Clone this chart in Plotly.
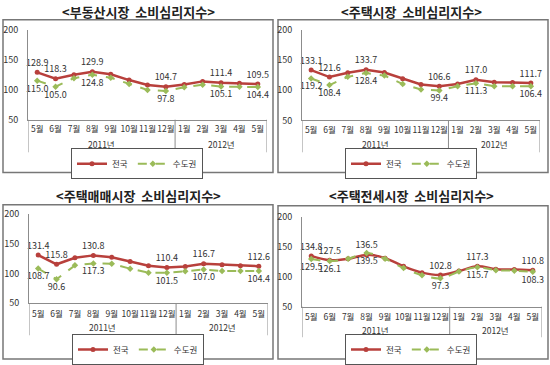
import plotly.graph_objects as go

months = ["5월", "6월", "7월", "8월", "9월", "10월", "11월", "12월", "1월", "2월", "3월", "4월", "5월"]
years = ["2011년"] * 8 + ["2012년"] * 5

titles = ["<부동산시장  소비심리지수>", "<주택시장  소비심리지수>",
          "<주택매매시장  소비심리지수>", "<주택전세시장  소비심리지수>"]

# 전국 (national)
nat_realestate = [128.9, 118.3, 124.8, 129.9, 125.6, 116.0, 107.8, 104.7, 108.8, 113.8, 111.4, 110.6, 109.5]
nat_housing = [133.1, 121.6, 128.6, 133.7, 129.2, 118.7, 109.4, 106.6, 110.2, 117.0, 113.2, 112.5, 111.7]
nat_sale = [131.4, 115.8, 126.7, 130.8, 127.8, 120.6, 113.4, 110.4, 112.0, 116.7, 115.0, 113.4, 112.6]
nat_jeonse = [134.8, 127.5, 129.9, 136.5, 131.0, 117.3, 106.8, 102.8, 109.5, 117.3, 112.6, 112.0, 110.8]

# 수도권 (capital region)
cap_realestate = [115.0, 105.0, 119.2, 124.8, 120.0, 109.4, 99.5, 97.8, 103.9, 108.2, 105.1, 104.8, 104.4]
cap_housing = [119.2, 108.4, 122.0, 128.4, 124.0, 110.0, 101.0, 99.4, 106.6, 111.3, 106.6, 106.5, 106.4]
cap_sale = [108.7, 90.6, 114.0, 117.3, 116.8, 108.4, 101.7, 101.5, 104.0, 107.0, 104.4, 104.4, 104.4]
cap_jeonse = [129.5, 126.1, 130.0, 139.5, 130.0, 114.5, 102.5, 97.3, 108.5, 115.7, 111.0, 110.0, 108.3]

# indices of points that carry data labels
nat_labeled = [[0, 1, 3, 7, 10, 12], [0, 1, 3, 7, 9, 12], [0, 1, 3, 7, 9, 12], [0, 1, 3, 7, 9, 12]]
cap_labeled = [[0, 1, 3, 7, 10, 12], [0, 1, 3, 7, 9, 12], [0, 1, 3, 7, 9, 12], [0, 1, 3, 7, 9, 12]]

nat_all = [nat_realestate, nat_housing, nat_sale, nat_jeonse]
cap_all = [cap_realestate, cap_housing, cap_sale, cap_jeonse]

# unique category keys (year + month) so repeated month names stay distinct
cats = [f"{y} {m}" for y, m in zip(years, months)]
year_names = list(dict.fromkeys(years))
group_idx = {y: [k for k, yy in enumerate(years) if yy == y] for y in year_names}

W, H = 550, 365
RED = "#B8403C"
GREEN = "#9BBB59"
AXC = "#8C8C8C"
FONT = "Noto Sans CJK KR"

panels = [
    dict(plot=(28, 267, 30, 121), box=(3, 273, 20, 174.5), title=(138, 12), leg=(137, 165.5),
         year_y=146, div_b=154, standoff=1),
    dict(plot=(302, 540, 30, 121.7), box=(278, 548, 20, 174.5), title=(411, 12), leg=(411, 165.5),
         year_y=146, div_b=154, standoff=1),
    dict(plot=(29, 268, 216.7, 306.7), box=(3, 273, 207, 363), title=(138, 198), leg=(138, 353.5),
         year_y=331, div_b=339, standoff=2),
    dict(plot=(302, 542, 219.3, 310), box=(278, 548, 208, 363), title=(411, 198), leg=(411, 353.5),
         year_y=334, div_b=341, standoff=2),
]

fig = go.Figure()
shapes = []
annotations = []
layout_extra = {}

for i, p in enumerate(panels):
    n = i + 1
    xa = "x" if n == 1 else f"x{n}"
    ya = "y" if n == 1 else f"y{n}"
    leg = "legend" if n == 1 else f"legend{n}"
    shape = "spline" if n == 4 else "linear"

    nat = nat_all[i]
    cap = cap_all[i]
    nat_text = [f"{v:.1f}" if k in nat_labeled[i] else "" for k, v in enumerate(nat)]
    cap_text = [f"{v:.1f}" if k in cap_labeled[i] else "" for k, v in enumerate(cap)]

    fig.add_trace(go.Scatter(
        x=cats, y=nat, name="전국", mode="lines+markers+text",
        text=nat_text, textposition="top center",
        textfont=dict(size=9, color="#333333", family=FONT),
        line=dict(color=RED, width=2.5, shape=shape),
        marker=dict(symbol="circle", size=5, color=RED),
        xaxis=xa, yaxis=ya, legend=leg, cliponaxis=False))
    fig.add_trace(go.Scatter(
        x=cats, y=cap, name="수도권", mode="lines+markers+text",
        text=cap_text, textposition="bottom center",
        textfont=dict(size=9, color="#333333", family=FONT),
        line=dict(color=GREEN, width=2, dash="dash", shape=shape),
        marker=dict(symbol="diamond", size=5, color=GREEN),
        xaxis=xa, yaxis=ya, legend=leg, cliponaxis=False))

    x0, x1, yt, yb = p["plot"]
    xkey = "xaxis" if n == 1 else f"xaxis{n}"
    ykey = "yaxis" if n == 1 else f"yaxis{n}"
    layout_extra[xkey] = dict(
        domain=[x0 / W, x1 / W], anchor=ya, type="category",
        categoryorder="array", categoryarray=cats,
        tickvals=cats, ticktext=months, tickangle=0,
        showline=True, linecolor=AXC, linewidth=1,
        showgrid=False, ticks="", ticklabelstandoff=p["standoff"],
        tickfont=dict(size=8.5, color="#333333", family=FONT),
        range=[-0.5, len(cats) - 0.5], automargin=False)
    layout_extra[ykey] = dict(
        domain=[1 - yb / H, 1 - yt / H], anchor=xa, range=[50, 200],
        tickvals=[50, 100, 150, 200], showline=True, linecolor=AXC,
        linewidth=1, showgrid=False, zeroline=False, ticks="", ticklabelstandoff=7,
        tickfont=dict(size=9, color="#333333", family=FONT), automargin=False)

    bounds = [-0.5] + [max(group_idx[y]) + 0.5 for y in year_names]
    for b in bounds:
        shapes.append(dict(type="line", xref=xa, yref="paper", x0=b, x1=b,
                           y0=1 - yb / H, y1=1 - p["div_b"] / H,
                           line=dict(color=AXC, width=1)))
    for y in year_names:
        idx = group_idx[y]
        annotations.append(dict(text=y, xref=xa, yref="paper",
                                x=(min(idx) + max(idx)) / 2, y=1 - p["year_y"] / H,
                                xanchor="center", yanchor="middle", showarrow=False,
                                font=dict(size=8.5, color="#333333", family=FONT)))

    lx, ly = p["leg"]
    layout_extra[leg] = dict(
        x=lx / W, y=1 - ly / H, xanchor="center", yanchor="middle",
        orientation="h", bordercolor="#555555", borderwidth=1,
        bgcolor="white", font=dict(size=8.5, color="#333333", family=FONT),
        itemwidth=30, tracegroupgap=0)

    bx0, bx1, by0, by1 = p["box"]
    shapes.append(dict(type="rect", xref="paper", yref="paper",
                       x0=bx0 / W, x1=bx1 / W, y0=1 - by1 / H, y1=1 - by0 / H,
                       line=dict(color="#777777", width=1.5), layer="below"))
    tx, ty = p["title"]
    annotations.append(dict(text=f"<b>{titles[i]}</b>", x=tx / W, y=1 - ty / H,
                            xref="paper", yref="paper", xanchor="center", yanchor="middle",
                            showarrow=False, font=dict(size=13, color="#222222", family=FONT)))

fig.update_layout(
    width=W, height=H, margin=dict(l=0, r=0, t=0, b=0),
    paper_bgcolor="white", plot_bgcolor="white",
    shapes=shapes, annotations=annotations,
    font=dict(family=FONT),
    **layout_extra)

fig.write_html("out.html", config={"displayModeBar": False},
               post_script="document.body.style.margin='0';document.body.style.overflow='hidden';")
